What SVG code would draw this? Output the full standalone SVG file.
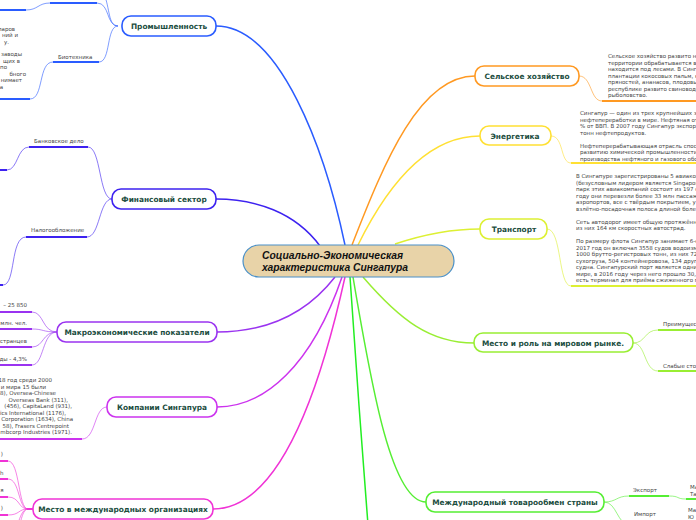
<svg xmlns="http://www.w3.org/2000/svg" width="696" height="520" viewBox="0 0 696 520">
<style>
.node{fill:#fff;stroke-width:1.6}
.lbl{font-family:"DejaVu Sans",Verdana,sans-serif;font-weight:bold;font-size:7.4px;fill:#1b4d3e;text-anchor:middle}
.txt{font-family:"DejaVu Sans",Verdana,sans-serif;font-size:5.5px;fill:#444}
.end{text-anchor:end}
.c{fill:none;stroke-width:1.5}
.s{fill:none;stroke-width:1;opacity:0.6}
.u{fill:none;stroke-width:2.2}
</style>
<rect width="696" height="520" fill="#fff"/>
<g id="connectors">
<path class="c" stroke="#2a5cff" d="M345,245 C325,150 280,26 216,26"/>
<path class="c" stroke="#3d22f0" d="M320,246 C295,212 255,199 216,199"/>
<path class="c" stroke="#9a33f0" d="M335,277 C300,322 255,332 217,332"/>
<path class="c" stroke="#cc33ee" d="M342,277 C312,365 265,407 217,407"/>
<path class="c" stroke="#f033d6" d="M345,277 C320,390 280,509 213,509"/>
<path class="c" stroke="#ff9922" d="M352,245 C385,160 420,76 475,76"/>
<path class="c" stroke="#ffe033" d="M358,245 C390,180 430,136 480,136"/>
<path class="c" stroke="#ddf033" d="M395,244 C425,234 450,229 480,229"/>
<path class="c" stroke="#99ee33" d="M363,277 C400,320 430,343 474,343"/>
<path class="c" stroke="#22ee22" d="M350,277 C355,350 362,450 368,525"/>
<path class="c" stroke="#55ee33" d="M353,277 C372,390 392,502 426,502"/>
</g>
<g id="n-center">
<rect x="243" y="245" width="211" height="32" rx="16" fill="#e8d3a8" stroke="#4a90c8" stroke-width="1.2"/>
<text x="262" y="259" font-family="Liberation Sans,Arial,sans-serif" font-weight="bold" font-style="italic" font-size="10.3" fill="#111">Социально-Экономическая</text>
<text x="262" y="271" font-family="Liberation Sans,Arial,sans-serif" font-weight="bold" font-style="italic" font-size="10.3" fill="#111">характеристика Сингапура</text>
</g>
<g id="n-industry">
<path class="s" stroke="#2a5cff" d="M26,10 C38,10 38,3 50,3"/>
<path class="u" stroke="#2a5cff" d="M0,10 H26 M50,3 H97"/>
<path class="s" stroke="#2a5cff" d="M97,3 C110,3 106,26 118,26"/>
<path class="s" stroke="#2a5cff" d="M118,26 C108,26 110,8 104,-6"/>
<path class="s" stroke="#2a5cff" d="M99,62 C111,62 106,26 118,26"/>
<path class="s" stroke="#2a5cff" d="M53,62 C38,62 44,99 30,99"/>
<path class="u" stroke="#2a5cff" d="M53,62 H99 M0,99 H30"/>
<text class="txt" x="58" y="59">Биотехника</text>
<text class="txt end" x="15" y="31">ларов</text>
<text class="txt end" x="18" y="37">ний и</text>
<text class="txt end" x="9" y="43.5">у.</text>
<text class="txt end" x="22" y="56">заводы</text>
<text class="txt end" x="20" y="62.5">щих в</text>
<text class="txt end" x="7" y="69">по</text>
<text class="txt end" x="26" y="75.5">бного</text>
<text class="txt end" x="22" y="82">нимает</text>
<text class="txt end" x="3" y="88.5">а</text>
<rect class="node" x="122" y="16" width="94" height="20" rx="9" stroke="#2a5cff"/>
<text class="lbl" x="169" y="29">Промышленность</text>
</g>
<g id="n-finance">
<path class="s" stroke="#3d22f0" d="M88,147 C101,147 99,199 112,199"/>
<path class="s" stroke="#3d22f0" d="M87,237 C100,237 99,199 112,199"/>
<path class="s" stroke="#3d22f0" d="M29,147 C17,147 18,170 7,170"/>
<path class="s" stroke="#3d22f0" d="M26,237 C10,237 16,285 3,285"/>
<path class="u" stroke="#3d22f0" d="M29,147 H88 M26,237 H87 M0,170 H7 M0,285 H3"/>
<text class="txt" x="34" y="143">Банковское дело</text>
<text class="txt" x="31" y="232">Налогообложение</text>
<rect class="node" x="112" y="189" width="104" height="20" rx="9" stroke="#3d22f0"/>
<text class="lbl" x="164" y="202">Финансовый сектор</text>
</g>
<g id="n-macro">
<path class="s" stroke="#9a33f0" d="M32,312 C44,312 42,332 57,332 M32,329 C44,329 42,332 57,332 M32,347 C44,347 42,332 57,332 M32,365 C44,365 42,332 57,332"/>
<path class="u" stroke="#9a33f0" d="M0,312 H32 M0,329 H32 M0,347 H32 M0,365 H32"/>
<text class="txt end" x="27" y="307">– 25 850</text>
<text class="txt end" x="27" y="325">млн. чел.</text>
<text class="txt end" x="27" y="343">странцев</text>
<text class="txt end" x="27" y="361">ды - 4,3%</text>
<rect class="node" x="57" y="322" width="160" height="20" rx="9" stroke="#9a33f0"/>
<text class="lbl" x="137" y="335">Макроэкономические показатели</text>
</g>
<g id="n-companies">
<path class="s" stroke="#cc33ee" d="M82,439 C96,439 94,407 107,407"/>
<path class="u" stroke="#cc33ee" d="M0,439 H82"/>
<text class="txt end" x="52" y="382">18 год среди 2000</text>
<text class="txt end" x="46" y="388.5">и мира 15 были</text>
<text class="txt end" x="56" y="395">8), Oversea-Chinese</text>
<text class="txt end" x="68" y="401.5">Overseas Bank (311),</text>
<text class="txt end" x="72" y="408">(456), CapitaLand (931),</text>
<text class="txt end" x="66" y="414.5">ics International (1176),</text>
<text class="txt end" x="73" y="421">Corporation (1634), China</text>
<text class="txt end" x="69" y="427.5">58), Frasers Centrepoint</text>
<text class="txt end" x="72" y="434">mbcorp Industries (1971).</text>
<rect class="node" x="107" y="397" width="110" height="20" rx="9" stroke="#cc33ee"/>
<text class="lbl" x="162" y="410">Компании Сингапура</text>
</g>
<g id="n-orgs">
<path class="s" stroke="#f033d6" d="M8,461 C20,461 18,509 28,509 M8,479 C20,479 18,509 28,509 M8,497 C20,497 18,509 28,509 M8,515 C20,515 18,509 28,509 M28,509 C18,509 20,533 8,533 M28,509 C18,509 20,551 8,551"/>
<path class="u" stroke="#f033d6" d="M0,461 H8 M0,479 H8 M0,497 H8 M0,515 H8 M27,509 H33"/>
<text class="txt end" x="3" y="456">)</text>
<text class="txt end" x="3.5" y="475">h</text>
<text class="txt end" x="3.5" y="492">я</text>
<text class="txt end" x="3" y="510">)</text>
<rect class="node" x="33" y="499" width="180" height="20" rx="9" stroke="#f033d6"/>
<text class="lbl" x="123" y="512">Место в международных организациях</text>
</g>
<g id="n-agri">
<path class="s" stroke="#ff9922" d="M579,76 C592,76 590,101 602,101"/>
<path class="u" stroke="#ff9922" d="M602,101 H700"/>
<rect class="node" x="475" y="66" width="104" height="20" rx="9" stroke="#ff9922"/>
<text class="lbl" x="527" y="79">Сельское хозяйство</text>
<text class="txt" x="608" y="58">Сельское хозяйство развито не</text>
<text class="txt" x="608" y="64.5">территории обрабатывается во</text>
<text class="txt" x="608" y="71">находится под лесами. В Синга</text>
<text class="txt" x="608" y="77.5">плантации кокосовых пальм, к</text>
<text class="txt" x="608" y="84">пряностей, ананасов, плодовы</text>
<text class="txt" x="608" y="90.5">республике развито свиноводс</text>
<text class="txt" x="608" y="97">рыболовство.</text>
</g>
<g id="n-energy">
<path class="s" stroke="#ffe033" d="M551,136 C564,136 560,163 571,163"/>
<path class="u" stroke="#ffe033" d="M571,163 H700"/>
<rect class="node" x="480" y="126" width="71" height="19" rx="9" stroke="#ffe033"/>
<text class="lbl" x="515" y="138.5">Энергетика</text>
<text class="txt" x="580" y="115">Сингапур — один из трех крупнейших з</text>
<text class="txt" x="580" y="121.5">нефтепереработки в мире. Нефтяная от</text>
<text class="txt" x="580" y="128">% от ВВП. В 2007 году Сингапур экспор</text>
<text class="txt" x="580" y="134.5">тонн нефтепродуктов.</text>
<text class="txt" x="580" y="147.5">Нефтеперерабатывающая отрасль спосо</text>
<text class="txt" x="580" y="154">развитию химической промышленности,</text>
<text class="txt" x="580" y="160.5">производства нефтяного и газового обо</text>
</g>
<g id="n-transport">
<path class="s" stroke="#ddf033" d="M547,229 C562,229 558,286 571,286"/>
<path class="u" stroke="#ddf033" d="M571,286 H700"/>
<rect class="node" x="480" y="219" width="67" height="20" rx="9" stroke="#ddf033"/>
<text class="lbl" x="514" y="232">Транспорт</text>
<text class="txt" x="576" y="178">В Сингапуре зарегистрированы 5 авиаком</text>
<text class="txt" x="576" y="184.5">(безусловным лидером является Singapor</text>
<text class="txt" x="576" y="191">парк этих авиакомпаний состоит из 197 с</text>
<text class="txt" x="576" y="197.5">году они перевезли более 33 млн пассаж</text>
<text class="txt" x="576" y="204">аэропортов, все с твёрдым покрытием, у</text>
<text class="txt" x="576" y="210.5">взлётно-посадочная полоса длиной боле</text>
<text class="txt" x="576" y="223.5">Сеть автодорог имеет общую протяжённо</text>
<text class="txt" x="576" y="230">из них 164 км скоростных автострад.</text>
<text class="txt" x="576" y="243">По размеру флота Сингапур занимает 6-е</text>
<text class="txt" x="576" y="249.5">2017 год он включал 3558 судов водоизм</text>
<text class="txt" x="576" y="256">1000 брутто-регистровых тонн, из них 72</text>
<text class="txt" x="576" y="262.5">сухогруза, 504 контейнеровоза, 134 друг</text>
<text class="txt" x="576" y="269">судна. Сингапурский порт является одни</text>
<text class="txt" x="576" y="275.5">мире, в 2016 году через него прошло 30,</text>
<text class="txt" x="576" y="282">есть терминал для приёма сжиженного га</text>
</g>
<g id="n-market">
<path class="s" stroke="#99ee33" d="M633,343 C646,343 644,330 658,330 M633,343 C646,343 644,371 658,371"/>
<path class="u" stroke="#99ee33" d="M658,330 H700 M658,371 H700"/>
<rect class="node" x="474" y="333" width="159" height="19" rx="9" stroke="#99ee33"/>
<text class="lbl" x="553" y="345.5">Место и роль на мировом  рынке.</text>
<text class="txt" x="663" y="326">Преимущес</text>
<text class="txt" x="663" y="368">Слабые сто</text>
</g>
<g id="n-trade">
<path class="s" stroke="#55ee33" d="M604,502 C617,502 616,496 629,496 M604,502 C617,502 617,525 630,525 M669,496 C680,496 676,499 686,499"/>
<path class="u" stroke="#55ee33" d="M629,496 H669 M686,499 H700"/>
<rect class="node" x="426" y="492" width="178" height="20" rx="9" stroke="#55ee33"/>
<text class="lbl" x="515" y="505">Международный товарообмен страны</text>
<text class="txt" x="633" y="492">Экспорт</text>
<text class="txt" x="634" y="516">Импорт</text>
<text class="txt" x="690" y="489">Ма</text>
<text class="txt" x="690" y="495.5">Та</text>
<text class="txt" x="688" y="512">Ма</text>
<text class="txt" x="688" y="519">Ю</text>
</g>
</svg>
